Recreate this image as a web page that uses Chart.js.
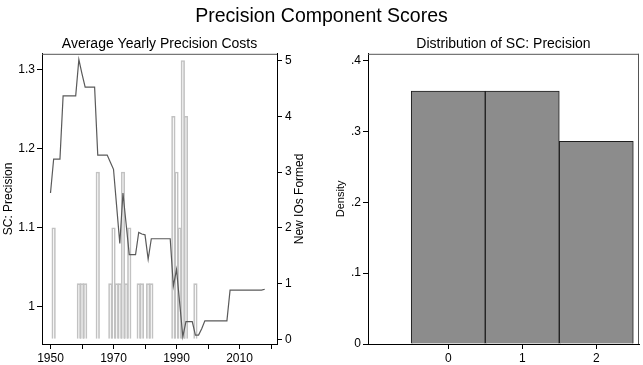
<!DOCTYPE html>
<html>
<head>
<meta charset="utf-8">
<script src="https://cdn.jsdelivr.net/npm/chart.js@4.4.1/dist/chart.umd.min.js"></script>
<style>
body { margin: 0; background: #fff; width: 643px; height: 365px; position: relative; overflow: hidden; font-family: "Liberation Sans", Arial, sans-serif; }
#title { position: absolute; left: 0; top: 4px; width: 643px; text-align: center; font-size: 19.5px; color: #000; z-index: 2; }
#leftBox { position: absolute; left: 0; top: 0; width: 320px; height: 365px; }
#rightBox { position: absolute; left: 320px; top: 0; width: 323px; height: 365px; }
</style>
</head>
<body>
<div id="title">Precision Component Scores</div>
<div id="leftBox"><canvas id="chartYearly"></canvas></div>
<div id="rightBox"><canvas id="chartDist"></canvas></div>
<script>
// Средняя оценка по годам (SC: Precision)
const years = [];
for (let y = 1950; y <= 2018; y++) years.push(y);
const scPrecision = [
    1.144, 1.187, 1.187, 1.187, 1.267, 1.267, 1.267, 1.267, 1.267, 1.313,
    1.295, 1.278, 1.278, 1.278, 1.278, 1.192, 1.192, 1.192, 1.192, 1.183,
    1.174, 1.127, 1.080, 1.144, 1.105, 1.066, 1.066, 1.066, 1.094, 1.092,
    1.091, 1.060, 1.086, 1.086, 1.086, 1.086, 1.086, 1.086, 1.086, 1.026,
    1.047, 1.005, 0.962, 0.981, 0.981, 0.981, 0.964, 0.964, 0.972, 0.982,
    0.982, 0.982, 0.982, 0.982, 0.982, 0.982, 0.982, 1.021, 1.021, 1.021,
    1.021, 1.021, 1.021, 1.021, 1.021, 1.021, 1.021, 1.021, 1.022
];

// Новые МО по годам
const ioYears = [1951, 1959, 1960, 1961, 1965, 1969, 1970, 1971, 1972, 1973, 1974, 1975,
    1978, 1979, 1981, 1982, 1989, 1990, 1991, 1992, 1993, 1996];
const newIOs = [2, 1, 1, 1, 3, 1, 2, 1, 1, 3, 1, 2,
    1, 1, 1, 1, 4, 3, 2, 5, 4, 1];

const yearTicks = [1950, 1960, 1970, 1980, 1990, 2000, 2010, 2020];
const yearLabels = [1950, 1970, 1990, 2010];
const scTicks = [1, 1.1, 1.2, 1.3];
const ioTicks = [0, 1, 2, 3, 4, 5];

// Гистограмма
const bins = [0, 1, 2];
const density = [0.357, 0.357, 0.286];
const densityTicks = [0, 0.1, 0.2, 0.3, 0.4];

Chart.defaults.font.family = '"Liberation Sans", Arial, sans-serif';
Chart.defaults.color = '#000';
Chart.defaults.animation = false;

// рамка сверху (и справа)
function framePlugin(sides) {
    return {
        id: 'frame',
        afterDatasetsDraw(chart) {
            const ctx = chart.ctx;
            const a = chart.chartArea;
            ctx.save();
            ctx.strokeStyle = '#555';
            ctx.lineWidth = 1;
            ctx.beginPath();
            if (sides.includes('top')) {
                ctx.moveTo(a.left, a.top + 0.5);
                ctx.lineTo(a.right, a.top + 0.5);
            }
            if (sides.includes('right')) {
                ctx.moveTo(a.right - 0.5, a.top);
                ctx.lineTo(a.right - 0.5, a.bottom);
            }
            ctx.stroke();
            ctx.restore();
        }
    };
}

const rightTitle = {
    id: 'rightTitle',
    afterDraw(chart) {
        const ctx = chart.ctx;
        const a = chart.chartArea;
        ctx.save();
        ctx.translate(300, (a.top + a.bottom) / 2);
        ctx.rotate(-Math.PI / 2);
        ctx.font = '12px "Liberation Sans", Arial, sans-serif';
        ctx.fillStyle = '#000';
        ctx.textAlign = 'center';
        ctx.textBaseline = 'middle';
        ctx.fillText('New IOs Formed', 0, 0);
        ctx.restore();
    }
};

const tickGrid = { display: true, offset: false, drawOnChartArea: false, drawTicks: true, tickLength: 5, color: '#000' };

new Chart(document.getElementById('chartYearly').getContext('2d'), {
    type: 'bar',
    data: {
        datasets: [{
            type: 'line',
            label: 'SC: Precision',
            data: years.map((y, i) => ({ x: y, y: scPrecision[i] })),
            yAxisID: 'y',
            borderColor: '#5a5a5a',
            borderWidth: 1.2,
            pointRadius: 0,
            tension: 0,
            order: 0
        }, {
            type: 'bar',
            label: 'New IOs Formed',
            data: ioYears.map((y, i) => ({ x: y, y: newIOs[i] })),
            yAxisID: 'y1',
            backgroundColor: 'rgba(255,255,255,0)',
            borderColor: '#c2c2c2',
            borderWidth: 1,
            barThickness: 3.6,
            order: 1
        }]
    },
    options: {
        responsive: true,
        maintainAspectRatio: false,
        layout: { padding: 0 },
        plugins: {
            legend: { display: false },
            tooltip: { enabled: false },
            title: {
                display: true,
                text: 'Average Yearly Precision Costs',
                fullSize: false,
                font: { size: 14, weight: 'normal' },
                color: '#000',
                padding: { top: 36, bottom: 1 }
            }
        },
        scales: {
            x: {
                type: 'linear',
                offset: false,
                min: 1947.3,
                max: 2021.9,
                afterBuildTicks: (s) => { s.ticks = yearTicks.map(v => ({ value: v })); },
                afterFit: (s) => { s.height = 21; },
                ticks: {
                    autoSkip: false,
                    maxRotation: 0,
                    padding: 2,
                    font: { size: 12 },
                    callback: (v) => yearLabels.includes(v) ? String(v) : ''
                },
                grid: tickGrid,
                border: { display: true, color: '#000' }
            },
            y: {
                position: 'left',
                min: 0.9527,
                max: 1.3203,
                afterBuildTicks: (s) => { s.ticks = scTicks.map(v => ({ value: v })); },
                afterFit: (s) => { s.width = 42; },
                ticks: {
                    padding: 2,
                    font: { size: 12 },
                    callback: (v) => v === 1 ? '1' : v.toFixed(1)
                },
                grid: tickGrid,
                border: { display: true, color: '#000' },
                title: { display: true, text: 'SC: Precision', font: { size: 12 }, padding: { top: 1, bottom: 0 } }
            },
            y1: {
                position: 'right',
                min: -0.084,
                max: 5.12,
                afterBuildTicks: (s) => { s.ticks = ioTicks.map(v => ({ value: v })); },
                afterFit: (s) => { s.width = 43; },
                ticks: { padding: 3, font: { size: 12 } },
                grid: tickGrid,
                border: { display: true, color: '#000' }
            }
        }
    },
    plugins: [framePlugin(['top']), rightTitle]
});

new Chart(document.getElementById('chartDist').getContext('2d'), {
    type: 'bar',
    data: {
        datasets: [{
            label: 'Density',
            data: bins.map((b, i) => ({ x: b, y: density[i] })),
            backgroundColor: '#8c8c8c',
            borderColor: '#1e1e1e',
            borderWidth: 1,
            barPercentage: 1,
            categoryPercentage: 1
        }]
    },
    options: {
        responsive: true,
        maintainAspectRatio: false,
        layout: { padding: { right: 4 } },
        plugins: {
            legend: { display: false },
            tooltip: { enabled: false },
            title: {
                display: true,
                text: 'Distribution of SC: Precision',
                fullSize: false,
                font: { size: 14, weight: 'normal' },
                color: '#000',
                padding: { top: 36, bottom: 1 }
            }
        },
        scales: {
            x: {
                type: 'linear',
                offset: false,
                min: -1.084,
                max: 2.577,
                afterBuildTicks: (s) => { s.ticks = bins.map(v => ({ value: v })); },
                afterFit: (s) => { s.height = 21; },
                ticks: { autoSkip: false, maxRotation: 0, padding: 2, font: { size: 12 } },
                grid: tickGrid,
                border: { display: true, color: '#000' }
            },
            y: {
                min: 0,
                max: 0.4095,
                afterBuildTicks: (s) => { s.ticks = densityTicks.map(v => ({ value: v })); },
                afterFit: (s) => { s.width = 48; },
                ticks: {
                    padding: 2,
                    font: { size: 12 },
                    callback: (v) => v === 0 ? '0' : '.' + Math.round(v * 10)
                },
                grid: tickGrid,
                border: { display: true, color: '#000' },
                title: { display: true, text: 'Density', font: { size: 11 }, padding: { top: 14, bottom: 0 } }
            }
        }
    },
    plugins: [framePlugin(['top', 'right'])]
});
</script>
</body>
</html>
